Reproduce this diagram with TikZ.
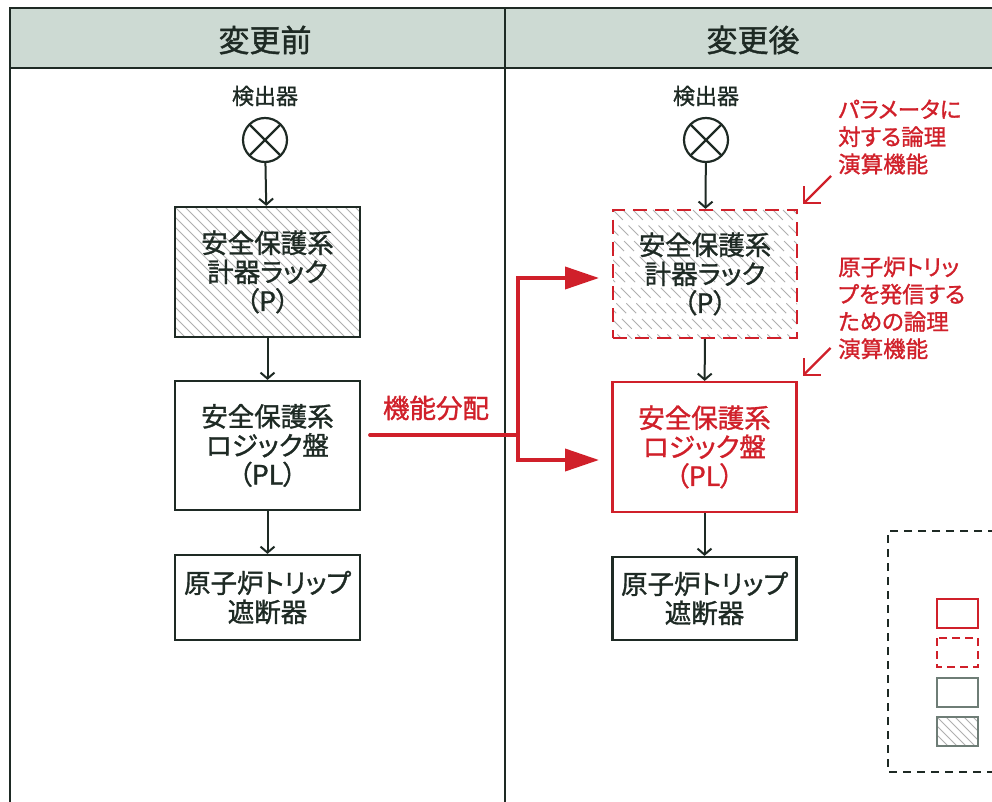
\documentclass[tikz,border=0pt]{standalone}
\usepackage{fontspec}
\setmainfont{Noto Sans CJK JP}[RawFeature=+palt, FakeBold=1.2]
\usetikzlibrary{arrows.meta,calc}
\definecolor{ink}{HTML}{1E2A24}
\definecolor{redc}{RGB}{208,32,42}
\definecolor{headfill}{RGB}{205,218,211}
\definecolor{hatchc}{RGB}{175,175,175}
\definecolor{legray}{RGB}{110,125,118}
\newcommand{\bxfont}{\fontsize{26.5}{29}\selectfont}
\newcommand{\hdfont}{\fontsize{31}{35}\selectfont}
\newcommand{\lbfont}{\fontsize{22}{26}\selectfont}
\newcommand{\anfont}{\fontsize{22.5}{27.3}\selectfont}
\tikzset{
  box/.style={draw=ink, line width=2.2pt, minimum width=185pt, inner sep=0pt, align=center, font=\bxfont, text=ink},
  hatched/.style={path picture={\foreach \i in {-25,...,25} \draw[hatchc, line width=0.9pt] ($(path picture bounding box.north west)+(\i*10pt,0pt)$) -- ++(240pt,-240pt);}},
  detector/.style={circle, draw=ink, line width=2.2pt, minimum size=44pt, inner sep=0pt,
     path picture={\draw[ink, line width=2.2pt] (path picture bounding box.north west) -- (path picture bounding box.south east) (path picture bounding box.north east) -- (path picture bounding box.south west);}},
  lbl/.style={font=\lbfont, text=ink, inner sep=1pt},
  flow/.style={draw=ink, line width=2pt, -{Straight Barb[length=6pt,width=14pt]}},
  redflow/.style={draw=redc, line width=3.8pt},
  anno/.style={font=\anfont, text=redc, align=left, inner sep=0pt},
  annoarrow/.style={draw=redc, line width=2.2pt, -{Straight Barb[length=12pt,width=24pt]}},
  tableline/.style={draw=ink, line width=2.6pt},
  reddash/.style={dash pattern=on 14pt off 8pt},
}
\begin{document}
\begin{tikzpicture}[x=1pt,y=-1pt]
\useasboundingbox (0,0) rectangle (992,802);
% table
\fill[headfill] (10,8) rectangle (1005,68);
\draw[tableline] (1005,8) -- (10,8) -- (10,812);
\draw[tableline] (10,68) -- (1005,68);
\draw[tableline] (505,8) -- (505,812);
\node[font=\hdfont, text=ink] (hL) at (265,40) {変更前};
\node[font=\hdfont, text=ink] (hR) at (753,40) {変更後};
% left column
\node[lbl] (dLlab) at (265,96) {検出器};
\node[detector] (dL) at (265,140) {};
\node[box, hatched, minimum height=130pt] (rackL) at (267.5,272) {安全保護系\\計器ラック\\（P）};
\node[box, minimum height=129pt] (plL) at (267.5,445.5) {安全保護系\\ロジック盤\\（PL）};
\node[box, minimum height=85pt] (brkL) at (267.5,597.5) {原子炉トリップ\\遮断器};
\draw[flow] (dL) -- (rackL);
\draw[flow] (rackL) -- (plL);
\draw[flow] (plL) -- (brkL);
% right column
\node[lbl] (dRlab) at (706,96) {検出器};
\node[detector] (dR) at (706,140) {};
\node[box, hatched, draw=redc, reddash, minimum width=184pt, minimum height=128pt] (rackR) at (705,274) {安全保護系\\計器ラック\\（P）};
\node[box, draw=redc, text=redc, minimum width=184pt, minimum height=130pt] (plR) at (704.5,447) {安全保護系\\ロジック盤\\（PL）};
\node[box, minimum width=184pt, minimum height=83pt] (brkR) at (704.5,598.5) {原子炉トリップ\\遮断器};
\draw[flow] (dR) -- (rackR);
\draw[flow] (rackR) -- (plR);
\draw[flow] (plR) -- (brkR);
% function allocation
\coordinate (fs) at (370,435);
\coordinate (fj) at (518,435);
\coordinate (tP) at (599,278);
\coordinate (tPL) at (599,460);
\node[font=\bxfont, text=redc] (flab) at (436,408) {機能分配};
\draw[redflow, line cap=round] (fs) -- (fj);
\draw[redflow, -{Triangle[length=34pt,width=22pt]}] (fj) |- (tP);
\draw[redflow, -{Triangle[length=34pt,width=22pt]}] (fj) |- (tPL);
% annotations
\node[anno, anchor=west] (a1) at (838,137) {パラメータに\\対する論理\\演算機能};
\node[anno, anchor=west] (a2) at (838,308) {原子炉トリッ\\プを発信する\\ための論理\\演算機能};
\draw[annoarrow] ($(rackR.north east)+(33,-33)$) -- ($(rackR.north east)+(5,-5)$);
\draw[annoarrow] ($(plR.north east)+(33,-33)$) -- ($(plR.north east)+(5,-5)$);
% legend
\draw[ink, line width=1.6pt, dash pattern=on 8pt off 6pt] (1010,531) -- (888,531) -- (888,772) -- (1010,772);
\draw[redc, line width=1.8pt] (937,599) rectangle (978,628);
\draw[redc, line width=1.8pt, dash pattern=on 8pt off 5pt] (937,638) rectangle (978,667);
\draw[legray, line width=1.4pt] (937,678) rectangle (978,707);
\begin{scope}
\clip (937,717) rectangle (978,746);
\foreach \i in {-6,...,6} \draw[hatchc, line width=1pt] (937+\i*9,717) -- ++(40,40);
\end{scope}
\draw[legray, line width=1.4pt] (937,717) rectangle (978,746);
\end{tikzpicture}
\end{document}
